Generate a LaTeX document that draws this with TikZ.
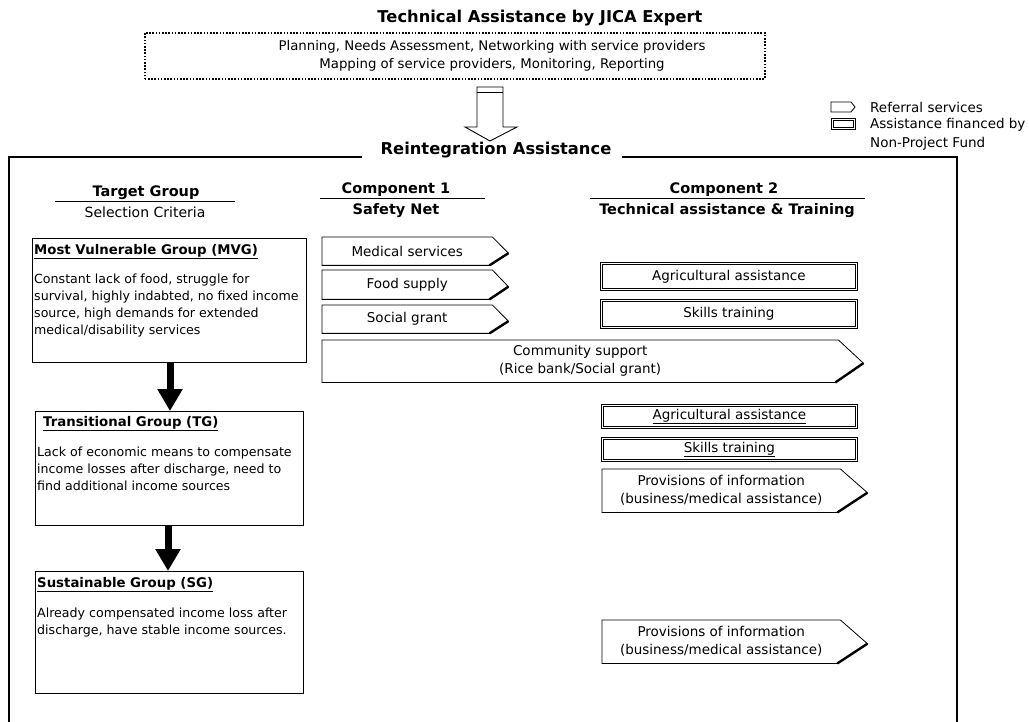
\documentclass[tikz,border=0pt]{standalone}
\usepackage{fontspec}
\setmainfont{DejaVu Sans}
\usetikzlibrary{calc,arrows.meta}
\newcommand\refshape[2]{%
  \draw[line width=0.8pt] (#1.north west) -- (#1.north east) -- ($(#1.east)+(#2,2)$) -- ($(#1.south east)+(-3,0)$) -- (#1.south west) -- cycle;
  \draw[line width=2.4pt] ($(#1.east)+(#2,2)$) -- ($(#1.south east)+(-3,0)$);
}
\newcommand\dblin[1]{%
  \draw[line width=0.8pt] ($(#1.north west)+(2.8,2.8)$) rectangle ($(#1.south east)+(-2.8,-2.8)$);
}
\tikzset{
  hdr/.style={font=\bfseries\fontsize{14.5}{17}\selectfont, inner sep=0pt},
  sub/.style={font=\fontsize{14}{17}\selectfont, inner sep=0pt},
  bigtitle/.style={font=\bfseries\fontsize{16.3}{19}\selectfont, inner sep=0pt},
  grpbox/.style={draw, line width=0.9pt, anchor=north west, inner sep=0pt},
  grptitle/.style={font=\bfseries\fontsize{13.3}{16}\selectfont, anchor=north west, inner sep=0pt},
  grpbody/.style={font=\fontsize{12.6}{17}\selectfont, anchor=north west, inner sep=0pt, align=left},
  dblbox/.style={draw, line width=0.8pt, inner sep=0pt, anchor=north west, font=\fontsize{13.5}{16}\selectfont},
  refnode/.style={inner sep=0pt, anchor=north west, align=center, font=\fontsize{13.5}{18}\selectfont},
  bigarrow/.style={line width=7pt, -{Triangle[width=24pt,length=22pt]}},
  leg/.style={font=\fontsize{13.5}{16}\selectfont, anchor=west, inner sep=0pt},
  jtxt/.style={font=\fontsize{13.3}{16}\selectfont, inner sep=0pt},
}
\begin{document}
\begin{tikzpicture}[x=1pt,y=-1pt]
\useasboundingbox (0,0) rectangle (1029,722);
% top
\node[bigtitle] (title) at (540,18) {Technical Assistance by JICA Expert};
\node[draw, line width=1.6pt, dash pattern=on 1.6pt off 1.6pt, minimum width=620, minimum height=46, anchor=north west, inner sep=0pt] (jica) at (144,32) {};
\node[jtxt] (jt1) at (492,47) {Planning, Needs Assessment, Networking with service providers};
\node[jtxt] (jt2) at (492,65) {Mapping of service providers, Monitoring, Reporting};
% hollow arrow
\coordinate (ha) at (490,87);
\draw[line width=0.9pt, fill=white] ($(ha)+(-13,0)$) -- ($(ha)+(-13,40)$) -- ($(ha)+(-25,40)$) -- ($(ha)+(0,54)$) -- ($(ha)+(27,40)$) -- ($(ha)+(13,40)$) -- ($(ha)+(13,0)$) -- cycle;
\draw[line width=0.9pt] ($(ha)+(-13,5)$) -- ($(ha)+(13,5)$);
% legend
\coordinate (l1) at (831,102);
\draw[line width=0.8pt] (l1) -- ++(20,0) -- ++(4,5) -- ++(-4,5) -- ++(-20,0) -- cycle;
\node[leg] (lt1) at (870,107) {Referral services};
\node[dblbox, minimum width=24, minimum height=11] (lbox) at (831,118) {};
\dblin{lbox}
\node[leg] (lt2) at (870,125) {Assistance financed by};
\node[leg] (lt3) at (870,144) {Non-Project Fund};
% frame
\node[bigtitle] (reint) at (496,150) {Reintegration Assistance};
\draw[line width=1.2pt] ([xshift=-18pt]reint.west |- 0,157) -- (9,157) -- (9,730);
\draw[line width=1.2pt] ([xshift=10pt]reint.east |- 0,157) -- (957,157) -- (957,730);
% column headers
\node[hdr] (h0) at (146,193) {Target Group};
\draw[line width=0.8pt] (55,201) -- (235,201);
\node[sub] (s0) at (145,212) {Selection Criteria};
\node[hdr] (h1) at (396,190) {Component 1};
\draw[line width=0.8pt] (320,198) -- (485,198);
\node[hdr] (s1) at (396,211) {Safety Net};
\node[hdr] (h2) at (724,190) {Component 2};
\draw[line width=0.8pt] (590,198) -- (865,198);
\node[hdr] (s2) at (727,211) {Technical assistance \& Training};
% groups
\node[grpbox, minimum width=274, minimum height=124] (mvg) at (32,238) {};
\node[grptitle] (mvgt) at ($(mvg.north west)+(2,6)$) {\underline{Most Vulnerable Group (MVG)}};
\node[grpbody] (mvgb) at ($(mvg.north west)+(2,36)$) {Constant lack of food, struggle for\\survival, highly indabted, no fixed income\\source, high demands for extended\\medical/disability services};
\node[grpbox, minimum width=268, minimum height=114] (tg) at (35,411) {};
\node[grptitle] (tgt) at ($(tg.north west)+(8,5)$) {\underline{Transitional Group (TG)}};
\node[grpbody] (tgb) at ($(tg.north west)+(2,36)$) {Lack of economic means to compensate\\income losses after discharge, need to\\find additional income sources};
\node[grpbox, minimum width=268, minimum height=122] (sg) at (35,571) {};
\node[grptitle] (sgt) at ($(sg.north west)+(2,6)$) {\underline{Sustainable Group (SG)}};
\node[grpbody] (sgb) at ($(sg.north west)+(2,37)$) {Already compensated income loss after\\discharge, have stable income sources.};
\draw[bigarrow] (mvg.south -| 170,0) -- (tg.north -| 170,0);
\draw[bigarrow] (tg.south -| 168,0) -- (sg.north -| 168,0);
% component 1
\node[refnode, minimum width=170, minimum height=28] (med) at (322,237) {Medical services};
\refshape{med}{16}
\node[refnode, minimum width=170, minimum height=29] (food) at (322,270) {Food supply};
\refshape{food}{16}
\node[refnode, minimum width=170, minimum height=28] (soc) at (322,305) {Social grant};
\refshape{soc}{16}
\node[refnode, minimum width=516, minimum height=42] (comm) at (322,340) {Community support\\(Rice bank/Social grant)};
\refshape{comm}{25}
% component 2
\node[dblbox, minimum width=257, minimum height=28] (agr1) at (600,262) {Agricultural assistance};
\dblin{agr1}
\node[dblbox, minimum width=257, minimum height=29] (sk1) at (600,299) {Skills training};
\dblin{sk1}
\node[dblbox, minimum width=256, minimum height=24] (agr2) at (601,404) {\underline{Agricultural assistance}};
\dblin{agr2}
\node[dblbox, minimum width=256, minimum height=24] (sk2) at (601,437) {\underline{Skills training}};
\dblin{sk2}
\node[refnode, minimum width=238, minimum height=43] (prov1) at (602,469) {Provisions of information\\(business/medical assistance)};
\refshape{prov1}{27}
\node[refnode, minimum width=238, minimum height=43] (prov2) at (602,620) {Provisions of information\\(business/medical assistance)};
\refshape{prov2}{27}
\end{tikzpicture}
\end{document}
